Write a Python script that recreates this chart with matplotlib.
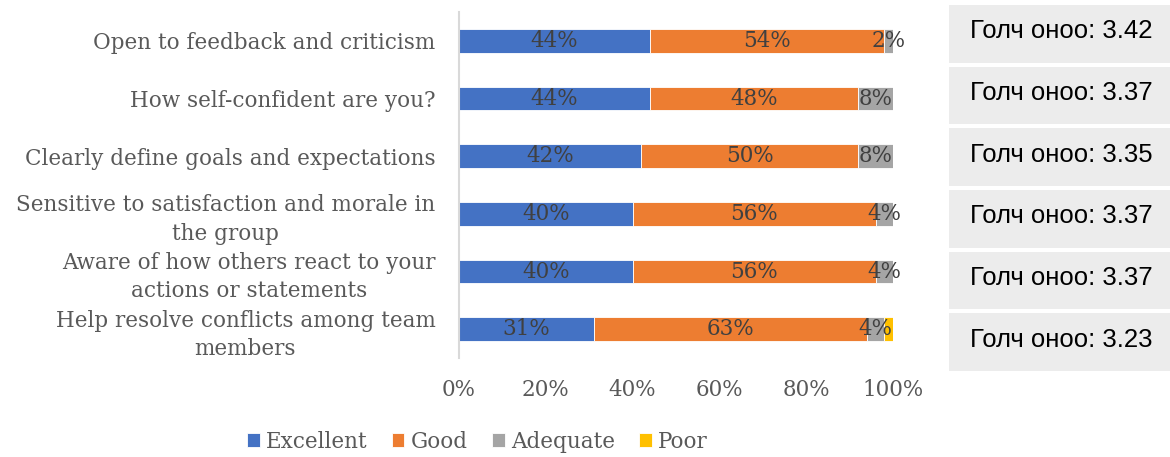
import numpy as np
import matplotlib
matplotlib.use("Agg")
import matplotlib.pyplot as plt

# data
questions = [
    "Open to feedback and criticism",
    "How self-confident are you?",
    "Clearly define goals and expectations",
    "Sensitive to satisfaction and morale in\nthe group",
    "Aware of how others react to your\nactions or statements",
    "Help resolve conflicts among team\nmembers",
]
excellent = [44, 44, 42, 40, 40, 31]
good = [54, 48, 50, 56, 56, 63]
adequate = [2, 8, 8, 4, 4, 4]
poor = [0, 0, 0, 0, 0, 2]
avg_scores = [3.42, 3.37, 3.35, 3.37, 3.37, 3.23]

series = [("Excellent", excellent, "#4472C4"),
          ("Good", good, "#ED7D31"),
          ("Adequate", adequate, "#A5A5A5"),
          ("Poor", poor, "#FFC000")]
labelled = {"Excellent", "Good", "Adequate"}

serif = ["DejaVu Serif"]
txt_gray = "#595959"
fs = 15.5

fig = plt.figure(figsize=(11.7, 4.57), dpi=100)
ax = fig.add_axes([459 / 1170, 1 - 358 / 457, (893 - 459) / 1170, 346 / 457])

y = np.arange(len(questions))
left = np.zeros(len(questions))
for name, vals, col in series:
    vals = np.array(vals, dtype=float)
    ax.barh(y, vals, left=left, height=0.41, color=col,
            edgecolor="white", linewidth=0.6, label=name)
    if name in labelled:
        for yi, l, v in zip(y, left, vals):
            if v > 0:
                ax.text(l + v / 2, yi, f"{int(v)}%", ha="center", va="center",
                        fontsize=fs, color="#404040", family=serif)
    left += vals

ax.set_xlim(0, 100)
ax.set_ylim(len(questions) - 0.5, -0.5)
ax.set_yticks(y)
ax.set_yticklabels(questions, family=serif, fontsize=fs, color=txt_gray,
                   linespacing=1.38, multialignment="center")
ax.set_xticks(np.arange(0, 101, 20))
ax.set_xticklabels([f"{v}%" for v in range(0, 101, 20)], family=serif,
                   fontsize=fs, color=txt_gray)
ax.tick_params(axis="both", length=0)
ax.tick_params(axis="y", pad=17)
ax.tick_params(axis="x", pad=15)
for s in ["top", "right", "bottom"]:
    ax.spines[s].set_visible(False)
ax.spines["left"].set_color("#d9d9d9")
ax.spines["left"].set_linewidth(1.5)

# score boxes on the right
ax2 = fig.add_axes([949 / 1170, 84 / 457, 221 / 1170, 370 / 457])
ax2.barh(y, [1] * len(y), height=0.94, color="#ececec")
for yi, sc in zip(y, avg_scores):
    ax2.text(0.095, yi - 0.04, f"Голч оноо: {sc:.2f}", ha="left", va="center",
             fontsize=18.5, family=["Liberation Sans"], color="black")
ax2.set_xlim(0, 1)
ax2.set_ylim(len(y) - 0.5, -0.5)
ax2.axis("off")

fig.legend(loc="center", bbox_to_anchor=(0.408, 0.033), ncol=4, frameon=False,
           handlelength=0.6, handleheight=0.6, handletextpad=0.3,
           columnspacing=1.1, prop={"family": serif, "size": fs},
           labelcolor=txt_gray)

fig.savefig("out.png", dpi=100)
